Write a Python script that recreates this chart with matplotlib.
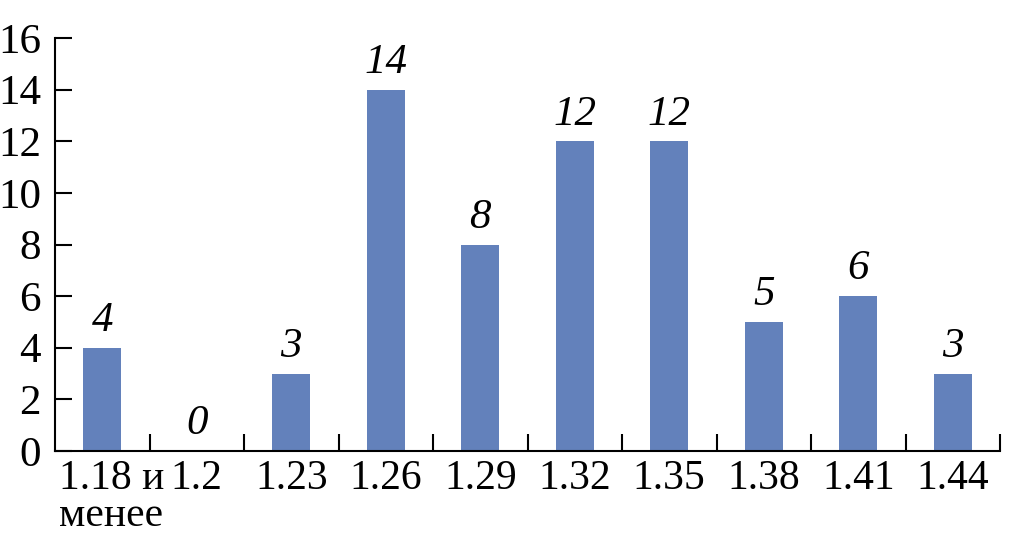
import matplotlib
matplotlib.use("Agg")
import matplotlib.pyplot as plt
import matplotlib.transforms as mtransforms
import numpy as np

categories = ["1.18 и\nменее", "1.2", "1.23", "1.26", "1.29", "1.32", "1.35", "1.38", "1.41", "1.44"]
values = [4, 0, 3, 14, 8, 12, 12, 5, 6, 3]
yticks = [0, 2, 4, 6, 8, 10, 12, 14, 16]

plt.rcParams['font.family'] = ['Liberation Serif', 'DejaVu Serif']
fs = 30

fig = plt.figure(figsize=(10.16, 5.48), dpi=100)
ax = fig.add_axes([55/1016, (548-451)/548, (1000-55)/1016, (451-38)/548])

x = np.arange(len(categories))
bars = ax.bar(x, values, width=0.4, color='#6381BB', zorder=2)
for xi, v in zip(x, values):
    ax.text(xi, v + 0.3, str(v), ha='center', va='bottom', fontsize=fs + 1, style='italic')

ax.set_xlim(-0.5, len(categories) - 0.5)
ax.set_ylim(0, 16)
ax.set_yticks(yticks)
ax.set_yticklabels([str(t) for t in yticks], fontsize=fs + 1)
ax.set_xticks(x)
ax.set_xticklabels(categories, fontsize=fs, linespacing=0.95, va='top')
ax.set_xticks(np.arange(len(categories)) + 0.5, minor=True)
ax.tick_params(axis='x', which='major', length=0, pad=6)
ax.tick_params(axis='x', which='minor', direction='in', length=12, width=1.5)
ax.tick_params(axis='y', direction='in', length=12, width=1.5, pad=10)
for s in ['top', 'right']:
    ax.spines[s].set_visible(False)
for s in ['left', 'bottom']:
    ax.spines[s].set_linewidth(1.5)

# first label sits slightly right of its bar in the reference
lbl = ax.get_xticklabels()[0]
lbl.set_transform(lbl.get_transform() + mtransforms.ScaledTranslation(9/100, 0, fig.dpi_scale_trans))

fig.savefig("out.png", dpi=100)
